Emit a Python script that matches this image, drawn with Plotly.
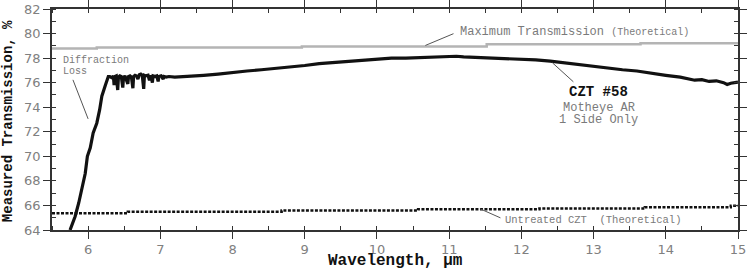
import plotly.graph_objects as go

# ---- data ----
czt_wl = [5.75, 5.82, 5.87, 5.91, 5.96, 5.99, 6.03, 6.07, 6.12, 6.16, 6.19, 6.24, 6.28,
          6.30, 6.33, 6.35, 6.36, 6.37, 6.39, 6.41, 6.42, 6.44, 6.46, 6.48, 6.49, 6.51,
          6.53, 6.55, 6.56, 6.58, 6.60, 6.62, 6.63, 6.65, 6.67, 6.69, 6.71, 6.73, 6.75,
          6.77, 6.78, 6.80, 6.83, 6.85, 6.87, 6.89, 6.90, 6.93, 6.95, 6.97, 6.98, 7.01,
          7.04, 7.05, 7.08, 7.12,
          7.2, 7.4, 7.6, 7.8, 8.0, 8.2, 8.4, 8.6, 8.8, 9.0, 9.2, 9.4, 9.6, 9.8, 10.0,
          10.2, 10.4, 10.6, 10.8, 11.0, 11.1, 11.2, 11.4, 11.6, 11.8, 12.0, 12.2, 12.4,
          12.6, 12.8, 13.0, 13.2, 13.4, 13.6, 13.8, 14.0, 14.2, 14.3, 14.4, 14.5, 14.6,
          14.7, 14.8, 14.85, 14.9, 15.0]
czt_t = [64.0, 65.1, 66.2, 67.3, 68.6, 70.0, 70.7, 71.9, 72.7, 73.8, 74.9, 75.8, 76.5,
         76.5, 76.4, 76.55, 75.8, 76.5, 76.55, 75.4, 76.45, 76.55, 76.5, 75.6, 76.4, 76.55,
         76.2, 75.9, 76.5, 76.55, 76.45, 75.55, 76.5, 76.6, 76.55, 76.3, 76.65, 76.7, 76.6,
         75.5, 76.6, 76.55, 76.6, 76.2, 76.6, 76.0, 76.55, 76.5, 76.55, 76.1, 76.5, 76.55,
         76.3, 76.5, 76.45, 76.5,
         76.45, 76.5, 76.6, 76.7, 76.85, 76.95, 77.05, 77.15, 77.3, 77.4, 77.55, 77.65, 77.75, 77.85, 77.95,
         78.0, 78.0, 78.05, 78.05, 78.1, 78.15, 78.1, 78.05, 78.0, 78.0, 77.95, 77.85, 77.75,
         77.6, 77.45, 77.35, 77.2, 77.05, 76.95, 76.75, 76.6, 76.45, 76.35, 76.2, 76.25, 76.1,
         76.15, 76.0, 75.85, 75.95, 76.05]

max_wl = [5.5, 6.12, 8.96, 11.52, 13.65, 15.0]
max_t = [78.78, 78.87, 78.95, 79.13, 79.22, 79.22]

untr_wl = [5.5, 6.55, 8.68, 10.57, 12.25, 13.71, 14.9, 15.0]
untr_t = [65.37, 65.48, 65.58, 65.7, 65.75, 65.86, 65.97, 65.97]

x_ticks = [6, 7, 8, 9, 10, 11, 12, 13, 14, 15]
y_ticks = [64, 66, 68, 70, 72, 74, 76, 78, 80, 82]

MONO = "Liberation Mono, Courier New, monospace"
GRAY = "#7a7a7a"

fig = go.Figure()
fig.add_trace(go.Scatter(x=max_wl, y=max_t, mode="lines", line_shape="hv",
                         line=dict(color="#b4b4b4", width=2.5), showlegend=False))
fig.add_trace(go.Scatter(x=untr_wl, y=untr_t, mode="lines", line_shape="hv",
                         line=dict(color="#111111", width=2.5, dash="3px,1.5px"), showlegend=False))
fig.add_trace(go.Scatter(x=czt_wl, y=czt_t, mode="lines",
                         line=dict(color="#111111", width=3.2), showlegend=False))

axis_common = dict(
    showline=True, linecolor="#333333", linewidth=1.5, mirror="allticks",
    ticks="outside", ticklen=7, tickwidth=1.2, tickcolor="#333333",
    showgrid=False, zeroline=False, automargin=False,
    tickfont=dict(family="DejaVu Sans", size=13, color="#808080"),
)
fig.update_xaxes(range=[5.5, 15], tickvals=x_ticks,
                 minor=dict(ticks="inside", ticklen=4, tickwidth=1.2, tickcolor="#333333", dtick=0.5, tick0=5.5),
                 **axis_common)
fig.update_yaxes(range=[64, 82], tickvals=y_ticks,
                 minor=dict(ticks="inside", ticklen=4, tickwidth=1.2, tickcolor="#333333", dtick=1, tick0=64),
                 **axis_common)

# leader lines
leaders = [
    (10.67, 79.03, 11.06, 79.99),
    (5.79, 76.23, 6.0, 73.05),
    (12.43, 77.62, 12.72, 76.07),
    (11.43, 65.72, 11.71, 64.99),
]
for x0, y0, x1, y1 in leaders:
    fig.add_shape(type="line", x0=x0, y0=y0, x1=x1, y1=y1, xref="x", yref="y",
                  line=dict(color="#555555", width=1))

def note(x, y, text, size, color=GRAY, xanchor="left", bold=False):
    if bold:
        text = "<b>" + text + "</b>"
    fig.add_annotation(x=x, y=y, xref="x", yref="y", text=text, showarrow=False,
                       xanchor=xanchor, yanchor="middle",
                       font=dict(family=MONO, size=size, color=color))

note(11.12, 80.09, "Maximum Transmission <span style='font-size:10px'>(Theoretical)</span>", 12)
note(5.62, 77.81, "Diffraction", 10)
note(5.62, 76.87, "Loss", 10)
note(13.07, 75.2, "CZT #58", 14, color="#111111", xanchor="center", bold=True)
note(13.07, 73.93, "Motheye AR", 12, xanchor="center")
note(13.07, 72.92, "1 Side Only", 12, xanchor="center")
note(11.74, 64.83, "Untreated CZT  (Theoretical)", 10.5)

fig.add_annotation(x=-0.064, y=0.493, xref="paper", yref="paper", text="<b>Measured Transmission, %</b>",
                   textangle=-90, showarrow=False, xanchor="center", yanchor="middle",
                   font=dict(family=MONO, size=14, color="#111111"))
fig.add_annotation(x=0.5, y=-0.142, xref="paper", yref="paper", text="<b>Wavelength, µm</b>",
                   showarrow=False, xanchor="center", yanchor="middle",
                   font=dict(family=MONO, size=16, color="#111111"))

fig.update_layout(width=747, height=271, margin=dict(l=52, r=9, t=9, b=41, autoexpand=False),
                  plot_bgcolor="white", paper_bgcolor="white")

fig.write_html("out.html", config={"displayModeBar": False},
               post_script="document.body.style.margin='0';document.body.style.overflow='hidden';")
